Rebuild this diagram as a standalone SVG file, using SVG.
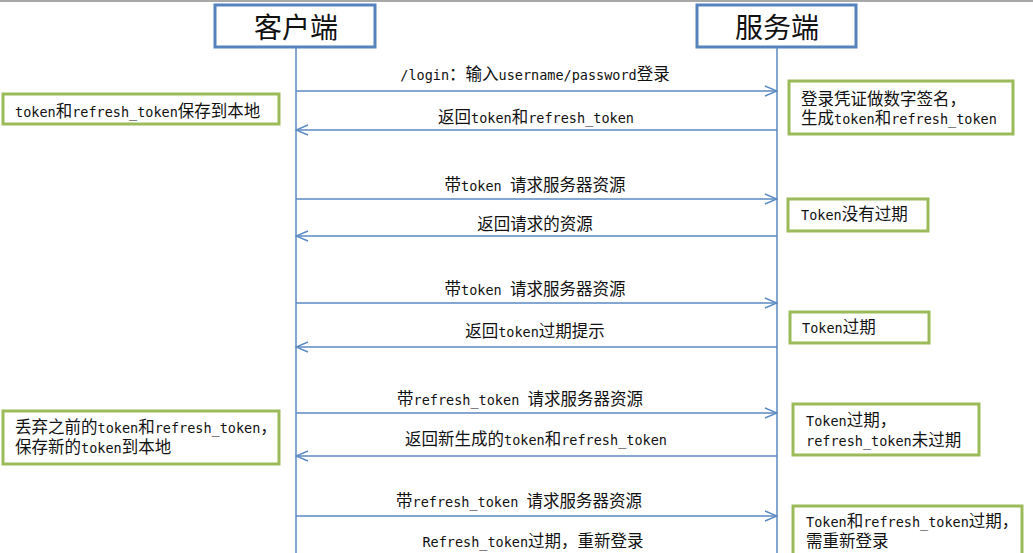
<svg xmlns="http://www.w3.org/2000/svg" width="1033" height="553" viewBox="0 0 1033 553">
<style>
.hdr{fill:#fff;stroke:#5583bd;stroke-width:3}
.hdrt{font-family:"Noto Sans CJK SC",sans-serif;font-size:28px;fill:#111;text-anchor:middle}
.life{stroke:#5b8ac2;stroke-width:1.5;fill:none}
.msg{stroke:#5b8ac2;stroke-width:1.4;fill:none}
.lbl{font-family:"DejaVu Sans Mono","Noto Sans CJK SC",monospace;font-size:13.5px;fill:#111;text-anchor:middle}
.note{fill:#fff;stroke:#9bbb59;stroke-width:3}
.nt{font-family:"DejaVu Sans Mono","Noto Sans CJK SC",monospace;font-size:13.5px;fill:#111}
.c{font-family:"Noto Sans CJK SC",sans-serif;font-size:16.5px}
</style>
<defs>
<marker id="ah" markerWidth="14" markerHeight="12" refX="13" refY="6" orient="auto" markerUnits="userSpaceOnUse">
<path d="M1,1 L13,6 L1,11" fill="none" stroke="#5b8ac2" stroke-width="1.4"/>
</marker>
</defs>
<rect x="0" y="0" width="1033" height="553" fill="#fff"/>
<line x1="0" y1="1" x2="1033" y2="1" stroke="#a8a8a8" stroke-width="2"/>

<g id="client">
<rect class="hdr" x="215" y="5" width="160" height="42"/>
<text class="hdrt" x="296" y="38">客户端</text>
</g>
<g id="server">
<rect class="hdr" x="697" y="5" width="159" height="42"/>
<text class="hdrt" x="777" y="38">服务端</text>
</g>

<g id="connectors">
<line class="life" x1="296" y1="47" x2="296" y2="553"/>
<line class="life" x1="777" y1="47" x2="777" y2="553"/>
<line class="msg" x1="296" y1="91" x2="777" y2="91" marker-end="url(#ah)"/>
<line class="msg" x1="777" y1="130" x2="296" y2="130" marker-end="url(#ah)"/>
<line class="msg" x1="296" y1="199" x2="777" y2="199" marker-end="url(#ah)"/>
<line class="msg" x1="777" y1="236" x2="296" y2="236" marker-end="url(#ah)"/>
<line class="msg" x1="296" y1="303" x2="777" y2="303" marker-end="url(#ah)"/>
<line class="msg" x1="777" y1="347" x2="296" y2="347" marker-end="url(#ah)"/>
<line class="msg" x1="296" y1="413" x2="777" y2="413" marker-end="url(#ah)"/>
<line class="msg" x1="777" y1="456" x2="296" y2="456" marker-end="url(#ah)"/>
<line class="msg" x1="296" y1="516" x2="777" y2="516" marker-end="url(#ah)"/>
<text class="lbl" x="535" y="80">/login<tspan class="c">：输入</tspan>username/password<tspan class="c">登录</tspan></text>
<text class="lbl" x="536" y="123"><tspan class="c">返回</tspan>token<tspan class="c">和</tspan>refresh_token</text>
<text class="lbl" x="535" y="191"><tspan class="c">带</tspan>token <tspan class="c">请求服务器资源</tspan></text>
<text class="lbl" x="535" y="230"><tspan class="c">返回请求的资源</tspan></text>
<text class="lbl" x="535" y="295"><tspan class="c">带</tspan>token <tspan class="c">请求服务器资源</tspan></text>
<text class="lbl" x="535" y="337"><tspan class="c">返回</tspan>token<tspan class="c">过期提示</tspan></text>
<text class="lbl" x="520" y="405"><tspan class="c">带</tspan>refresh_token <tspan class="c">请求服务器资源</tspan></text>
<text class="lbl" x="536" y="445"><tspan class="c">返回新生成的</tspan>token<tspan class="c">和</tspan>refresh_token</text>
<text class="lbl" x="519" y="507"><tspan class="c">带</tspan>refresh_token <tspan class="c">请求服务器资源</tspan></text>
<text class="lbl" x="533" y="547">Refresh_token<tspan class="c">过期，重新登录</tspan></text>
</g>

<g id="note-l1">
<rect class="note" x="3" y="94" width="276" height="30"/>
<text class="nt" x="15" y="117">token<tspan class="c">和</tspan>refresh_token<tspan class="c">保存到本地</tspan></text>
</g>
<g id="note-r1">
<rect class="note" x="789" y="81" width="224" height="53"/>
<text class="nt" x="801" y="105"><tspan class="c">登录凭证做数字签名，</tspan></text>
<text class="nt" x="801" y="124"><tspan class="c">生成</tspan>token<tspan class="c">和</tspan>refresh_token</text>
</g>
<g id="note-r2">
<rect class="note" x="788" y="199" width="140" height="32"/>
<text class="nt" x="801" y="220">Token<tspan class="c">没有过期</tspan></text>
</g>
<g id="note-r3">
<rect class="note" x="790" y="312" width="139" height="31"/>
<text class="nt" x="802" y="333">Token<tspan class="c">过期</tspan></text>
</g>
<g id="note-l2">
<rect class="note" x="3" y="411" width="276" height="53"/>
<text class="nt" x="15" y="433"><tspan class="c">丢弃之前的</tspan>token<tspan class="c">和</tspan>refresh_token<tspan class="c">，</tspan></text>
<text class="nt" x="15" y="453"><tspan class="c">保存新的</tspan>token<tspan class="c">到本地</tspan></text>
</g>
<g id="note-r4">
<rect class="note" x="793" y="404" width="186" height="51"/>
<text class="nt" x="806" y="426">Token<tspan class="c">过期，</tspan></text>
<text class="nt" x="806" y="446">refresh_token<tspan class="c">未过期</tspan></text>
</g>
<g id="note-r5">
<rect class="note" x="793" y="506" width="229" height="60"/>
<text class="nt" x="806" y="527">Token<tspan class="c">和</tspan>refresh_token<tspan class="c">过期，</tspan></text>
<text class="nt" x="806" y="547"><tspan class="c">需重新登录</tspan></text>
</g>
</svg>
